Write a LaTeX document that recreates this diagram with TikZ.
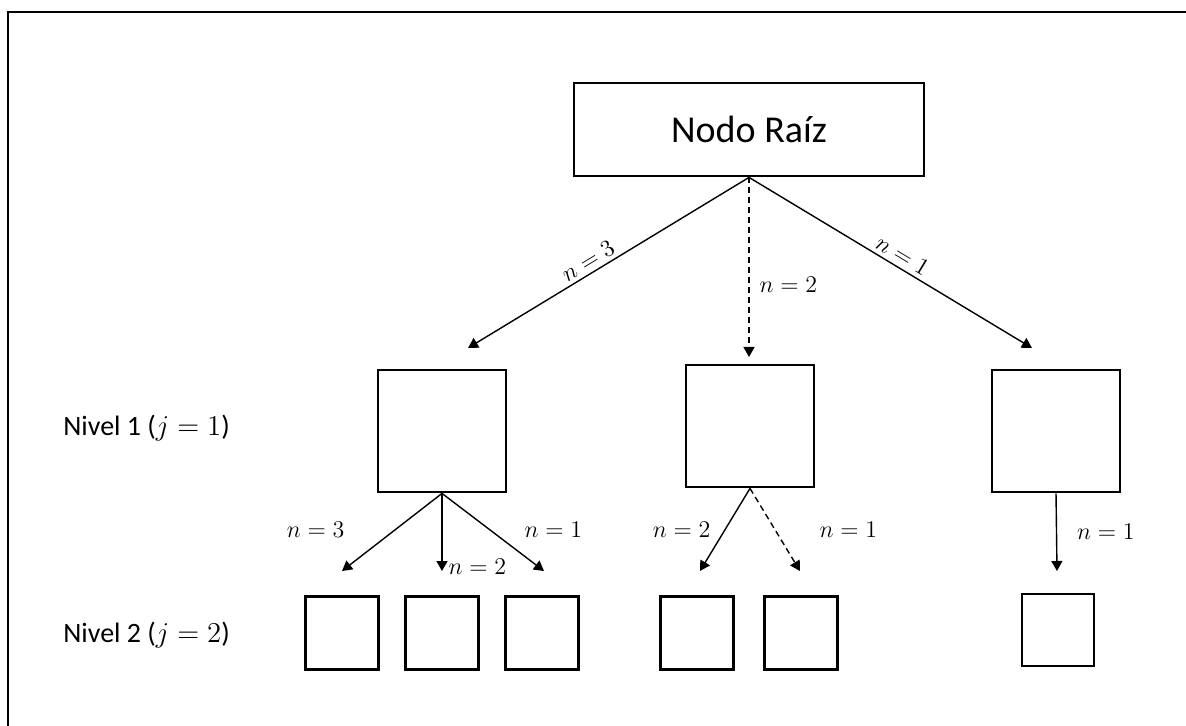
\documentclass[tikz,border=0pt]{standalone}
\usepackage{fontspec}
\setmainfont{Carlito}
\usetikzlibrary{arrows.meta,positioning}

\begin{document}
\begin{tikzpicture}[x=0.5pt,y=-0.5pt,font=\fontsize{14}{16}\selectfont,
    box/.style={draw,line width=1.4pt,inner sep=0pt},
    arr/.style={-{Triangle[length=5pt,width=5.5pt]},line width=0.7pt},
    lbl/.style={inner sep=0pt,font=\fontsize{13}{15}\selectfont}]
  \useasboundingbox (0,0) rectangle (1186,726);
  \draw[line width=1.4pt] (8,726) -- (8,12) -- (1186,12);
  \node[box,minimum width=175pt,minimum height=46.5pt,font=\fontsize{19}{23}\selectfont] (root) at (749,129.5) {Nodo Raíz};
  \foreach \nm/\x/\y in {a/442/431,b/750/426,c/1056/431}
    \node[box,minimum width=64pt,minimum height=61pt] (\nm) at (\x,\y) {};
  \foreach \nm/\x in {a1/342,a2/442,a3/542,b1/697,b2/801}
    \node[box,minimum size=36.5pt] (\nm) at (\x,633) {};
  \node[box,minimum size=36pt] (c1) at (1058,630) {};
  \node[anchor=west,inner sep=0pt] (niv1) at (63,428) {Nivel 1 ($j=1$)};
  \node[anchor=west,inner sep=0pt] (niv2) at (63,635) {Nivel 2 ($j=2$)};
  \coordinate (ta) at (468,348);
  \coordinate (tb) at (749,357);
  \coordinate (tc) at (1032,348);
  \foreach \t/\x in {ta1/342,ta2/442,ta3/544,tb1/700,tb2/800,tc1/1057}
    \coordinate (\t) at (\x,571);
  \draw[arr] (root.south) -- (ta) node[lbl,pos=0.55,sloped,above=2pt] {$n=3$};
  \draw[arr,dashed,dash pattern=on 3pt off 2pt] (root.south) -- (tb) node[lbl,pos=0.6,right=5pt] {$n=2$};
  \draw[arr] (root.south) -- (tc) node[lbl,pos=0.52,sloped,above=2pt] {$n=1$};
  \draw[arr] (a.south) -- (ta1) node[lbl,pos=0.47,left=25pt] {$n=3$};
  \draw[arr] (a.south) -- (ta2) node[lbl,pos=0.95,right=3pt] {$n=2$};
  \draw[arr] (a.south) -- (ta3) node[lbl,pos=0.47,right=17pt] {$n=1$};
  \draw[arr] (b.south) -- (tb1) node[lbl,pos=0.5,left=7pt] {$n=2$};
  \draw[arr,dashed,dash pattern=on 3pt off 2pt] (b.south) -- (tb2) node[lbl,pos=0.5,right=22pt] {$n=1$};
  \draw[arr] (c.south) -- (tc1) node[lbl,pos=0.5,right=10pt] {$n=1$};
\end{tikzpicture}
\end{document}
